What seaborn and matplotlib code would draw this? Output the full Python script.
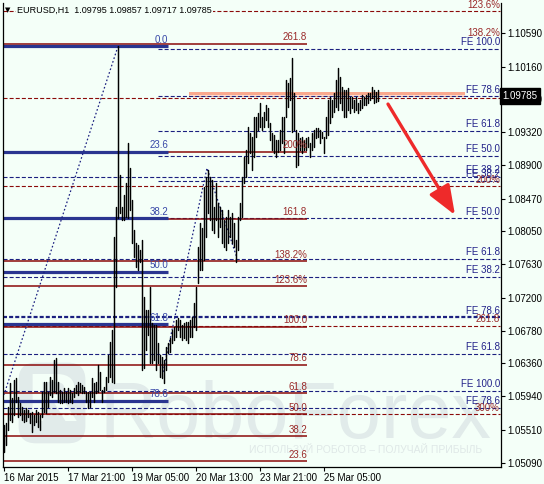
import numpy as np
import pandas as pd
import matplotlib
matplotlib.use("Agg")
import matplotlib.pyplot as plt
import seaborn as sns
from matplotlib.patches import Rectangle
import matplotlib.transforms as mtransforms

# ---------------- data ----------------
bar_high = [1.0557, 1.0560, 1.0580, 1.0611, 1.0592, 1.0615, 1.0617, 1.0593, 1.0585, 1.0580,
            1.0576, 1.0579, 1.0576, 1.0573, 1.0574, 1.0570, 1.0576, 1.0574, 1.0570, 1.0599,
            1.0612, 1.0612, 1.0599, 1.0619, 1.0615, 1.0640, 1.0643, 1.0612, 1.0602, 1.0599,
            1.0605, 1.0599, 1.0605, 1.0602, 1.0598, 1.0605, 1.0608, 1.0612, 1.0611, 1.0608,
            1.0606, 1.0599, 1.0599, 1.0599, 1.0617, 1.0611, 1.0612, 1.0634, 1.0625, 1.0602,
            1.0606, 1.0619, 1.0647, 1.0663, 1.0679, 1.0798, 1.0836, 1.1042, 1.0877, 1.0836,
            1.0852, 1.0867, 1.0918, 1.0886, 1.0845, 1.0807, 1.0790, 1.0788, 1.0781, 1.0794,
            1.0721, 1.0704, 1.0704, 1.0734, 1.0688, 1.0685, 1.0685, 1.0662, 1.0647, 1.0644,
            1.0640, 1.0657, 1.0662, 1.0669, 1.0679, 1.0683, 1.0692, 1.0694, 1.0692, 1.0685,
            1.0688, 1.0689, 1.0689, 1.0692, 1.0695, 1.0713, 1.0734, 1.0785, 1.0816, 1.0809,
            1.0862, 1.0875, 1.0884, 1.0875, 1.0871, 1.0836, 1.0867, 1.0841, 1.0836, 1.0832,
            1.0820, 1.0823, 1.0832, 1.0823, 1.0829, 1.0816, 1.0794, 1.0823, 1.0841, 1.0875,
            1.0900, 1.0909, 1.0939, 1.0931, 1.0926, 1.0951, 1.0951, 1.0957, 1.0969, 1.0951,
            1.0958, 1.0967, 1.0963, 1.0944, 1.0931, 1.0928, 1.0922, 1.0922, 1.0935, 1.0951,
            1.0951, 1.0999, 1.0995, 1.1001, 1.1027, 1.0982, 1.0935, 1.0931, 1.0925, 1.0926,
            1.0922, 1.0925, 1.0926, 1.0918, 1.0931, 1.0935, 1.0937, 1.0937, 1.0935, 1.0932,
            1.0926, 1.0951, 1.0973, 1.0977, 1.0973, 1.0982, 1.0999, 1.1014, 1.1003, 1.0990,
            1.0986, 1.0986, 1.0989, 1.0977, 1.0977, 1.0973, 1.0977, 1.0969, 1.0973, 1.0980,
            1.0977, 1.0980, 1.0982, 1.0982, 1.0990, 1.0986, 1.0983, 1.09857]
bar_low = [1.0523, 1.0532, 1.0551, 1.0564, 1.0561, 1.0570, 1.0587, 1.0567, 1.0570, 1.0564,
           1.0561, 1.0562, 1.0567, 1.0560, 1.0548, 1.0557, 1.0561, 1.0555, 1.0551, 1.0567,
           1.0574, 1.0573, 1.0580, 1.0596, 1.0593, 1.0599, 1.0598, 1.0587, 1.0585, 1.0585,
           1.0587, 1.0587, 1.0585, 1.0587, 1.0585, 1.0593, 1.0598, 1.0596, 1.0599, 1.0598,
           1.0598, 1.0587, 1.0579, 1.0580, 1.0593, 1.0587, 1.0598, 1.0599, 1.0602, 1.0587,
           1.0599, 1.0602, 1.0612, 1.0619, 1.0612, 1.0611, 1.0734, 1.0822, 1.0829, 1.0820,
           1.0820, 1.0823, 1.0822, 1.0832, 1.0790, 1.0772, 1.0759, 1.0756, 1.0766, 1.0628,
           1.0630, 1.0653, 1.0672, 1.0637, 1.0637, 1.0640, 1.0628, 1.0637, 1.0619, 1.0617,
           1.0611, 1.0628, 1.0649, 1.0651, 1.0662, 1.0666, 1.0670, 1.0679, 1.0670, 1.0666,
           1.0669, 1.0666, 1.0662, 1.0670, 1.0670, 1.0683, 1.0679, 1.0739, 1.0756, 1.0756,
           1.0768, 1.0798, 1.0829, 1.0820, 1.0807, 1.0803, 1.0820, 1.0798, 1.0811, 1.0790,
           1.0785, 1.0781, 1.0790, 1.0798, 1.0790, 1.0785, 1.0766, 1.0781, 1.0820, 1.0823,
           1.0867, 1.0875, 1.0893, 1.0905, 1.0884, 1.0900, 1.0926, 1.0935, 1.0939, 1.0935,
           1.0939, 1.0948, 1.0939, 1.0922, 1.0909, 1.0905, 1.0900, 1.0907, 1.0909, 1.0918,
           1.0905, 1.0951, 1.0964, 1.0973, 1.0932, 1.0935, 1.0887, 1.0890, 1.0909, 1.0905,
           1.0909, 1.0909, 1.0913, 1.0900, 1.0909, 1.0913, 1.0925, 1.0926, 1.0918, 1.0925,
           1.0905, 1.0925, 1.0928, 1.0944, 1.0951, 1.0958, 1.0964, 1.0960, 1.0969, 1.0960,
           1.0951, 1.0951, 1.0960, 1.0957, 1.0963, 1.0958, 1.0960, 1.0957, 1.0960, 1.0963,
           1.0967, 1.0967, 1.0969, 1.0973, 1.0976, 1.0969, 1.0971, 1.09717]

time_ticks = [0, 32, 64, 96, 128, 160]
time_labels = ["16 Mar 2015", "17 Mar 21:00", "19 Mar 05:00",
               "20 Mar 13:00", "23 Mar 21:00", "25 Mar 05:00"]
price_ticks = [1.10590, 1.10160, 1.09740, 1.09320, 1.08900, 1.08470, 1.08050,
               1.07630, 1.07200, 1.06780, 1.06360, 1.05940, 1.05510, 1.05090]

retr_levels = [1.1042, 1.0907, 1.0822, 1.0753, 1.0686, 1.0588]
retr_labels = ["0.0", "23.6", "38.2", "50.0", "61.8", "78.6"]

ext_levels = [1.1045, 1.0907, 1.0821, 1.0767, 1.0735, 1.0683,
              1.0634, 1.0598, 1.0571, 1.0543, 1.0511]
ext_labels = ["261.8", "200%", "161.8", "138.2%", "123.6%", "100.0",
              "78.6", "61.8", "50.0", "38.2", "23.6"]

ext2_levels = [1.1087, 1.0976, 1.0863, 1.0684, 1.0571]
ext2_labels = ["123.6%", "", "200%", "261.8", "300%"]
ext2_extra_label = "138.2%"
ext2_extra_level = 1.1045

fe_levels = [1.1039, 1.0978, 1.0934, 1.0902, 1.0870, 1.0822,
             1.0875, 1.0770, 1.0747, 1.0695, 1.0648, 1.0601, 1.0579]
fe_labels = ["FE 100.0", "FE 78.6", "FE 61.8", "FE 50.0", "FE 38.2", "FE 50.0",
             "FE 38.2", "FE 61.8", "FE 38.2", "FE 78.6", "FE 61.8", "FE 100.0", "FE 78.6"]

trend1_t = [57.0, 0.0]
trend1_p = [1.1042, 1.0596]
trend2_t = [79.5, 101.5, 116.5]
trend2_p = [1.0625, 1.0886, 1.0771]

arrow_t = [192.0, 225.5]
arrow_p = [1.0968, 1.0826]

zone_t = [92.5, 230.5]
zone_p = [1.0977, 1.0983]

last_price = 1.09785
title_text = "EURUSD,H1  1.09795 1.09857 1.09717 1.09785"
brand_text = "RoboForex"
slogan_text = "ИСПОЛЬЗУЙ РОБОТОВ – ПОЛУЧАЙ ПРИБЫЛЬ"

# ---------------- layout / style ----------------
BG = "#F4FFF8"
NAVY = "#1B2080"
MAROON = "#8B0A0A"
RETR_BLUE = "#2A3590"
WM = "#E1EBEA"
plt.rcParams["lines.scale_dashes"] = False
sns.set_style("white")
FONT = ["Liberation Sans", "DejaVu Sans"]
plt.rcParams["font.family"] = FONT

W, H = 544, 484
fig = plt.figure(figsize=(W / 100, H / 100), dpi=100, facecolor=BG)
ax = fig.add_axes([3 / W, 17 / H, 498 / W, 464 / H])
ax.set_facecolor(BG)
XMIN, XMAX = -0.5, 248.5
YMIN, YMAX = 1.05034, 1.10974
ax.set_xlim(XMIN, XMAX)
ax.set_ylim(YMIN, YMAX)


def px2t(px):
    return (px - 4) / 2.0


def py2p(py):
    return 1.11012 - 0.000128 * py


DASH = (0, (2.9, 1.5))
FS = 7

# watermark
ax.text(px2t(52), py2p(403), "R", fontsize=50, fontweight="bold", color=BG,
        ha="center", va="center", zorder=0.6,
        bbox=dict(boxstyle="round,pad=0.12,rounding_size=0.25", facecolor=WM, edgecolor="none"))
ax.text(px2t(100), py2p(438), brand_text, fontsize=57, color=WM,
        ha="left", va="baseline", zorder=0.5)
ax.text(px2t(366), py2p(450), slogan_text, fontsize=7.5,
        color="#DFE8E7", ha="center", va="center", zorder=0.5)

# orange zone
ax.add_patch(Rectangle((zone_t[0], zone_p[0]), zone_t[1] - zone_t[0], zone_p[1] - zone_p[0],
                       facecolor="#F9A98E", edgecolor="none", zorder=1))
ax.hlines((zone_p[0] + zone_p[1]) / 2, zone_t[0], zone_t[1], color="#FDE3D8", lw=0.7, zorder=1.1)

LBL_OFF = 0.0002

# red dashed full-width lines
for lev, lab in zip(ext2_levels, ext2_labels):
    ax.hlines(lev, XMIN, px2t(500), color=MAROON, lw=0.8, linestyles=[DASH], zorder=2)
    if lab:
        ax.text(px2t(500), lev + LBL_OFF, lab, color="#9A2A2A", fontsize=FS,
                ha="right", va="bottom", zorder=4)
ax.text(px2t(500), ext2_extra_level + 0.0008, ext2_extra_label, color="#9A2A2A",
        fontsize=FS, ha="right", va="bottom", zorder=4)

# FE blue dashed lines
fe_start = [158] * 5 + [170] + [3] * 7
for lev, lab, st in zip(fe_levels, fe_labels, fe_start):
    lw = 1.6 if (lab == "FE 78.6" and 1.065 < lev < 1.08) else 0.8
    ax.hlines(lev, px2t(st), px2t(500), color=NAVY, lw=lw, linestyles=[DASH], zorder=2)
    ax.text(px2t(500), lev + LBL_OFF, lab, color="#23238A", fontsize=FS,
            ha="right", va="bottom", zorder=4)

# red solid extension lines
for lev, lab in zip(ext_levels, ext_labels):
    ax.hlines(lev, XMIN, px2t(307), color=MAROON, lw=1.1, zorder=2)
    ax.text(px2t(307), lev + LBL_OFF, lab, color="#9A2A2A", fontsize=FS,
            ha="right", va="bottom", zorder=4)

# blue retracement lines
for lev, lab in zip(retr_levels, retr_labels):
    ax.hlines(lev, XMIN, px2t(168), color=RETR_BLUE, lw=2.3, zorder=2.2)
    ax.text(px2t(168), lev + LBL_OFF, lab, color="#3848A8", fontsize=FS,
            ha="right", va="bottom", zorder=4)

# trend (dotted) lines
tr = pd.DataFrame({"t": trend1_t + trend2_t, "p": trend1_p + trend2_p,
                   "g": ["a"] * len(trend1_t) + ["b"] * len(trend2_t)})
sns.lineplot(data=tr, x="t", y="p", units="g", estimator=None, sort=False,
             color=NAVY, lw=0.9, linestyle=(0, (1.2, 1.6)), ax=ax, zorder=2.5, legend=False)

# OHLC bars
n = len(bar_high)
bars = pd.DataFrame({"t": np.repeat(np.arange(n), 2),
                     "p": np.ravel(np.column_stack([bar_low, bar_high])),
                     "bar": np.repeat(np.arange(n), 2)})
sns.lineplot(data=bars, x="t", y="p", units="bar", estimator=None, sort=False,
             color="black", lw=1.05, ax=ax, zorder=3, legend=False)

# red arrow
ax.annotate("", xy=(arrow_t[1], arrow_p[1]), xytext=(arrow_t[0], arrow_p[0]),
            arrowprops=dict(arrowstyle="-|>,head_length=1.8,head_width=0.7",
                            color="#EE2A2A", lw=2.4, shrinkA=0, shrinkB=0), zorder=5)

# axes styling
ax.set_xlabel("")
ax.set_ylabel("")
for s in ["left", "right", "bottom"]:
    ax.spines[s].set_visible(True)
    ax.spines[s].set_color("black")
    ax.spines[s].set_linewidth(0.9)
ax.spines["top"].set_visible(False)
ax.yaxis.tick_right()
ax.set_yticks(price_ticks)
ax.set_yticklabels([f"{v:.5f}" for v in price_ticks])
ax.set_xticks(time_ticks)
ax.set_xticklabels(time_labels)
ax.tick_params(axis="y", which="both", right=True, left=False, direction="out",
               length=3, width=0.8, labelsize=FS, pad=1.5, colors="black")
ax.tick_params(axis="x", bottom=True, direction="out", length=3, width=0.8,
               labelsize=FS, pad=1.5, colors="black")
for lbl in ax.get_xticklabels():
    lbl.set_ha("left")
ax.grid(False)

# current price box
trans = mtransforms.blended_transform_factory(ax.transAxes, ax.transData)
ax.text(1.003, last_price, f"{last_price:.5f}", transform=trans, fontsize=FS,
        color="white", ha="left", va="center", clip_on=False, zorder=10,
        bbox=dict(facecolor="black", edgecolor="black", boxstyle="square,pad=0.3"))

# title
fig.text(5 / W, 1 - 10 / H, "▼", fontsize=5, ha="left", va="center", color="black",
         family=["DejaVu Sans"])
fig.text(17 / W, 1 - 10 / H, title_text, fontsize=6.5, ha="left", va="center", color="black",
         bbox=dict(facecolor=BG, edgecolor="none", boxstyle="square,pad=0.1"), zorder=10)

fig.savefig("out.png", dpi=100, facecolor=BG)
